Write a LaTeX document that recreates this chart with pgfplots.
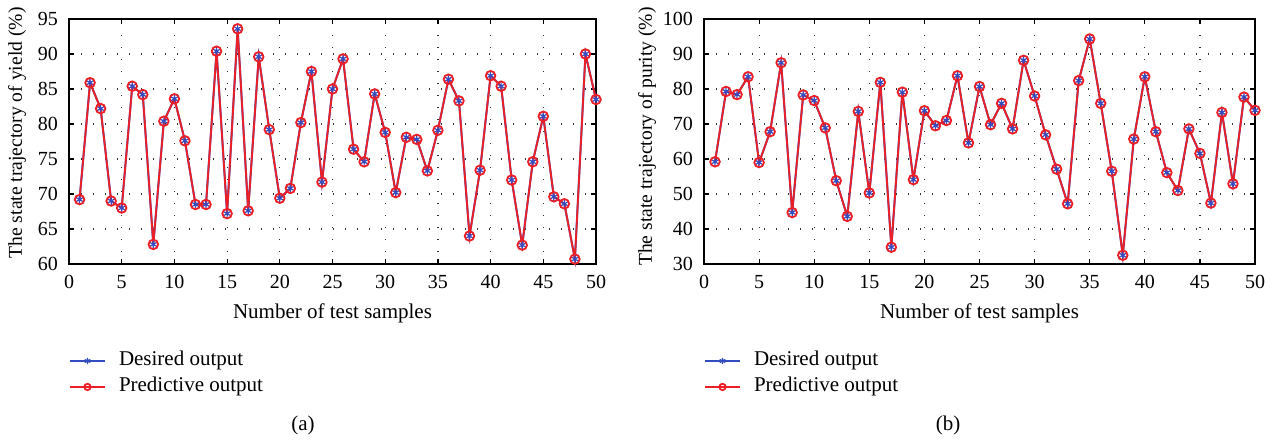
\documentclass[border=0pt]{standalone}
\usepackage{fontspec}
\setmainfont{Liberation Serif}
\usepackage{pgfplots}
\pgfplotsset{compat=1.18}
\usepackage{pgfplotstable}
\definecolor{myblue}{rgb}{0.2,0.3,0.75}
\definecolor{myred}{rgb}{0.93,0.12,0.15}

\pgfplotstableread{
x y
1 69.2
2 85.9
3 82.2
4 69.0
5 68.0
6 85.4
7 84.2
8 62.8
9 80.4
10 83.6
11 77.6
12 68.5
13 68.5
14 90.4
15 67.2
16 93.6
17 67.6
18 89.6
19 79.2
20 69.4
21 70.8
22 80.2
23 87.5
24 71.7
25 85.0
26 89.3
27 76.4
28 74.6
29 84.3
30 78.8
31 70.2
32 78.1
33 77.8
34 73.3
35 79.1
36 86.4
37 83.3
38 64.0
39 73.4
40 86.9
41 85.4
42 72.0
43 62.7
44 74.6
45 81.1
46 69.6
47 68.6
48 60.7
49 90.0
50 83.5
}\yieldtab

\pgfplotstableread{
x y
1 59.2
2 79.3
3 78.4
4 83.5
5 59.0
6 67.8
7 87.5
8 44.7
9 78.3
10 76.7
11 68.9
12 53.8
13 43.6
14 73.6
15 50.3
16 81.9
17 34.8
18 79.1
19 54.1
20 73.8
21 69.5
22 71.0
23 83.8
24 64.6
25 80.7
26 69.8
27 75.9
28 68.6
29 88.2
30 78.0
31 66.9
32 57.1
33 47.2
34 82.4
35 94.3
36 75.9
37 56.5
38 32.5
39 65.7
40 83.5
41 67.8
42 56.1
43 51.0
44 68.6
45 61.6
46 47.4
47 73.3
48 52.9
49 77.7
50 73.9
}\puritytab

\pgfplotsset{
  mystyle/.style={
    scale only axis,
    height=122.5pt,
    xmin=0, xmax=50,
    xtick={0,5,...,50},
    tick align=inside,
    major tick length=2.5pt,
    axis line style={line width=0.85pt},
    every tick/.style={black, line width=0.6pt},
    grid=major,
    grid style={black!80, line width=0.6pt, dash pattern=on 0.6pt off 5.4pt},
    tick label style={font=\fontsize{10}{12}\selectfont},
    /pgf/number format/assume math mode=true,
    label style={font=\fontsize{10.5}{12}\selectfont},
    xlabel={Number of test samples},
    x label style={at={(axis description cs:0.5,-0.2)}, anchor=center},
    xticklabel style={yshift=-2.2pt},
    yticklabel style={xshift=-2pt},
    clip=false,
    legend cell align=left,
    legend image code/.code={\draw[mark repeat=2,mark phase=2,##1] plot coordinates {(0pt,0pt)(8.75pt,0pt)(17.5pt,0pt)};},
    legend image post style={mark size=1.6pt},
    legend style={at={(axis description cs:0,-0.355)}, anchor=north west,
      draw=none, fill=none, inner sep=0pt, outer sep=0pt,
      row sep=3pt, column sep=6.5pt,
      nodes={inner sep=0pt, text height=7.5pt, text depth=2.5pt,
        font=\fontsize{10.5}{12}\selectfont}},
  },
  desired/.style={myblue, line width=1pt, mark=asterisk, mark size=2.3pt,
    mark options={line width=0.6pt, solid}},
  predicted/.style={myred, line width=0.9pt, mark=o, mark size=2.4pt,
    mark options={line width=0.9pt, solid}},
}

\begin{document}
\begin{tikzpicture}
\useasboundingbox (0,0) rectangle (637pt,221.5pt);

\begin{axis}[mystyle,
  at={(34.5pt,89.5pt)}, anchor=south west,
  width=263.5pt,
  ymin=60, ymax=95, ytick={60,65,...,95},
  ylabel={The state trajectory of yield (\%)},
  y label style={at={(axis description cs:-0.0987,0.535)}, anchor=center,
    font=\fontsize{9.8}{12}\selectfont},
]
\addplot[desired] table[x=x,y=y] {\yieldtab};
\addplot[predicted] table[x=x,y=y] {\yieldtab};
\legend{Desired output, Predictive output}
\end{axis}

\begin{axis}[mystyle,
  at={(352pt,89.5pt)}, anchor=south west,
  width=275.5pt,
  ymin=30, ymax=100, ytick={30,40,...,100},
  ylabel={The state trajectory of purity (\%)},
  y label style={at={(axis description cs:-0.1035,0.52)}, anchor=center,
    font=\fontsize{9.8}{12}\selectfont},
]
\addplot[desired] table[x=x,y=y] {\puritytab};
\addplot[predicted] table[x=x,y=y] {\puritytab};
\legend{Desired output, Predictive output}
\end{axis}

\node[font=\fontsize{10.5}{12}\selectfont] at (151.5pt,9pt) {(a)};
\node[font=\fontsize{10.5}{12}\selectfont] at (474pt,9pt) {(b)};
\end{tikzpicture}
\end{document}
